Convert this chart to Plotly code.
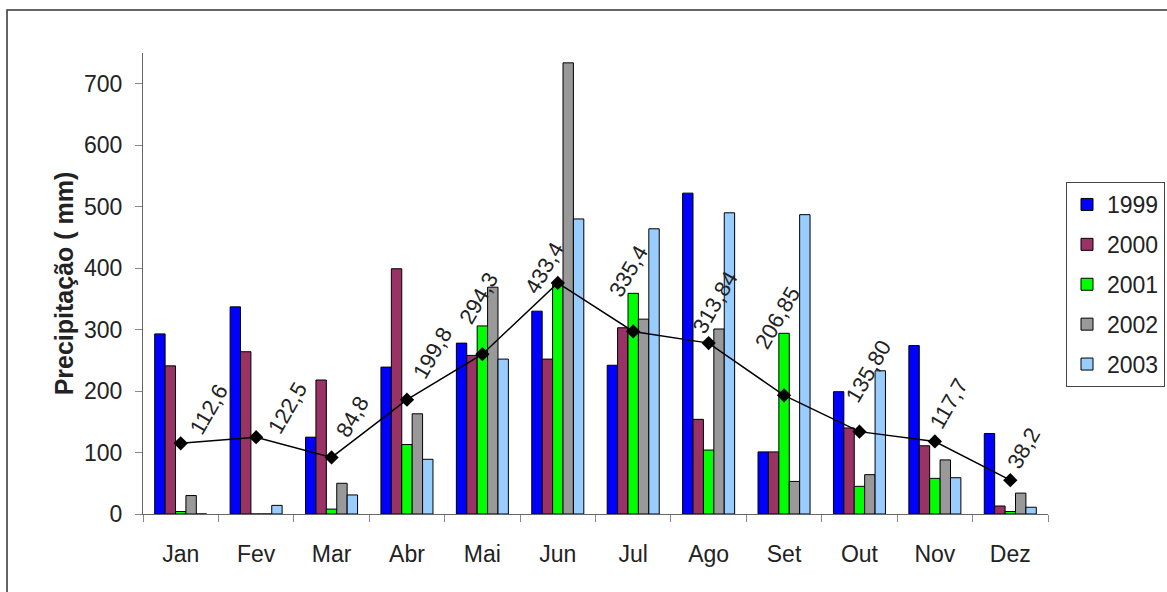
import plotly.graph_objects as go

months = ["Jan", "Fev", "Mar", "Abr", "Mai", "Jun", "Jul", "Ago", "Set", "Out", "Nov", "Dez"]
years = ["1999", "2000", "2001", "2002", "2003"]
v1999 = [293, 337, 125, 239, 278, 330, 242, 522, 101, 199, 274, 131]
v2000 = [241, 264, 218, 399, 258, 252, 303, 154, 101, 140, 111, 13]
v2001 = [4, 0, 8, 113, 306, 373, 359, 104, 294, 45, 58, 4]
v2002 = [30, 0, 50, 163, 369, 734, 317, 301, 53, 64, 88, 34]
v2003 = [0, 14, 31, 89, 252, 480, 464, 490, 487, 233, 59, 11]
line_values = [115, 125, 92, 186, 260, 376, 297, 278, 193, 134, 118, 55]
line_labels = ["112,6", "122,5", "84,8", "199,8", "294,3", "433,4", "335,4",
               "313,84", "206,85", "135,80", "117,7", "38,2"]
y_ticks = [0, 100, 200, 300, 400, 500, 600, 700]

series = [v1999, v2000, v2001, v2002, v2003]
colors = ["#0000FF", "#993366", "#00FF00", "#999999", "#99CCFF"]

# label placement offsets (px) relative to markers (style only)
lab_dx = [28, 31, 21, 26, -4, -13, -5, 6, -7, 9, 14, 13]
lab_dy = [34, 29, 41, 47, 56, 15, 60, 41, 77, 60, 38, 32]

FONT = "Arial, Liberation Sans, sans-serif"
FS = 23

fig = go.Figure()
for name, vals, col in zip(years, series, colors):
    fig.add_trace(go.Bar(
        x=months, y=vals, name=name, legendgroup=name,
        marker=dict(color=col, line=dict(color="#000000", width=1)),
    ))

fig.add_trace(go.Scatter(
    x=months, y=line_values, mode="lines+markers", showlegend=False,
    line=dict(color="#000000", width=1.5),
    marker=dict(symbol="diamond", size=11, color="#000000"),
))

for m, v, t, dx, dy in zip(months, line_values, line_labels, lab_dx, lab_dy):
    fig.add_annotation(
        x=m, y=v, text=t, showarrow=False, textangle=-60,
        xanchor="center", yanchor="middle", xshift=dx, yshift=dy,
        font=dict(family=FONT, size=22, color="#222222"),
    )

L, R, T, B = 143, 119, 53, 78
W, H = 1167, 592
pw, ph = W - L - R, H - T - B

def px_x(p):
    return (p - L) / pw

def px_y(p):
    return (H - B - p) / ph

fig.add_shape(type="rect", xref="paper", yref="paper",
              x0=px_x(7), x1=px_x(1180), y0=px_y(605), y1=px_y(10),
              line=dict(color="#333333", width=1.5), fillcolor="rgba(0,0,0,0)",
              layer="below")

fig.update_layout(
    width=W, height=H, autosize=False,
    margin=dict(l=L, r=R, t=T, b=B, autoexpand=False),
    paper_bgcolor="white", plot_bgcolor="white",
    barmode="group", bargap=0.31, bargroupgap=0,
    font=dict(family=FONT, size=FS, color="#222222"),
    showlegend=True,
    legend=dict(
        x=px_x(1165), y=px_y(182), xanchor="right", yanchor="top",
        bordercolor="#444444", borderwidth=1, bgcolor="white",
        font=dict(family=FONT, size=FS, color="#222222"),
        traceorder="grouped", tracegroupgap=7,
    ),
    xaxis=dict(
        type="category", range=[-0.5, len(months) - 0.5],
        showline=True, linecolor="#666666", linewidth=1,
        ticks="outside", tickson="boundaries", ticklen=7, tickcolor="#888888",
        showgrid=False, ticklabelstandoff=19, automargin=False,
        tickfont=dict(family=FONT, size=FS, color="#222222"),
    ),
    yaxis=dict(
        range=[0, 750], tickvals=y_ticks, showline=True, linecolor="#666666",
        linewidth=1, ticks="outside", ticklen=7, tickcolor="#888888",
        showgrid=False, zeroline=False, ticklabelstandoff=8, automargin=False,
        tickfont=dict(family=FONT, size=FS, color="#222222"),
        title=dict(text="<b>Precipitação ( mm)</b>", standoff=3,
                   font=dict(family=FONT, size=25, color="#222222")),
    ),
)

fig.write_html("out.html", config={"displayModeBar": False},
               post_script="document.body.style.margin='0';document.body.style.overflow='hidden';")
